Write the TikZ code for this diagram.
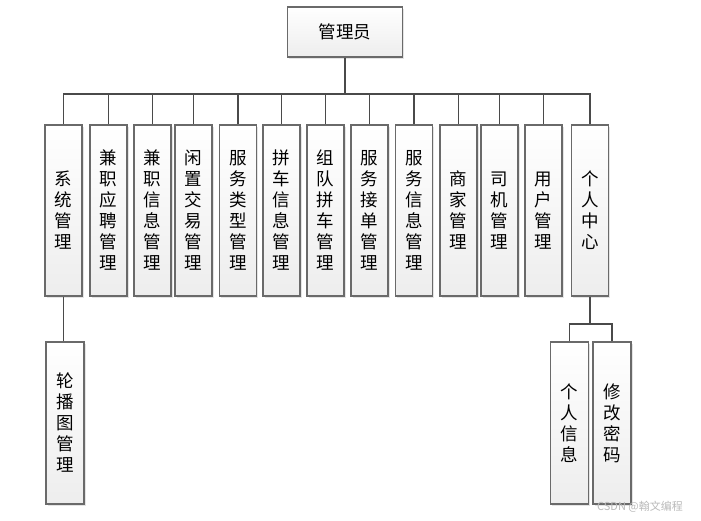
\documentclass[tikz,border=0pt]{standalone}
\usepackage{fontspec}
\newfontfamily\cjk{Noto Sans CJK SC}
\usetikzlibrary{shadows}
\definecolor{boxline}{HTML}{6A6A6A}
\definecolor{linkline}{HTML}{4A4A4A}
\tikzset{
  menubox/.style={draw=boxline,line width=1.1pt,inner sep=0pt,align=center,
    top color=white,bottom color=gray!14,
    drop shadow={shadow xshift=1.5pt,shadow yshift=-1.5pt,fill=gray!35,opacity=.6},
    font=\cjk\fontsize{17.5}{21}\selectfont},
  link/.style={draw=linkline,line width=1.4pt}
}
\begin{document}
\begin{tikzpicture}[x=1pt,y=-1pt]
    \useasboundingbox (0,0) rectangle (701,520);
    \node[menubox,minimum width=115pt,minimum height=50pt] (root) at (345,32) {管理员};
    \coordinate (bus) at (345,94);
    \draw[link] (root.south) -- (bus);
    % first level
    \foreach \x/\t [count=\i] in {63.5/系\\统\\管\\理, 108.5/兼\\职\\应\\聘\\管\\理,
        152.5/兼\\职\\信\\息\\管\\理, 193.5/闲\\置\\交\\易\\管\\理,
        238/服\\务\\类\\型\\管\\理, 281.5/拼\\车\\信\\息\\管\\理,
        325.5/组\\队\\拼\\车\\管\\理, 369.5/服\\务\\接\\单\\管\\理,
        414/服\\务\\信\\息\\管\\理, 458.5/商\\家\\管\\理,
        499.5/司\\机\\管\\理, 543.5/用\\户\\管\\理, 590/个\\人\\中\\心}{
        \node[menubox,minimum width=37pt,minimum height=171pt] (b\i) at (\x,210.5) {\t};
        \draw[link] (b\i.north) |- (bus);
    }
    % second level
    \node[menubox,minimum width=38pt,minimum height=162pt] (c1) at (65,423) {轮\\播\\图\\管\\理};
    \node[menubox,minimum width=38pt,minimum height=162pt] (c2) at (569.5,423) {个\\人\\信\\息};
    \node[menubox,minimum width=38pt,minimum height=162pt] (c3) at (612,423) {修\\改\\密\\码};
    \draw[link] (b1.south) -- (b1.south |- c1.north);
    \coordinate (fork) at (590,324);
    \draw[link] (b13.south) -- (fork);
    \draw[link] (c2.north) |- (fork);
    \draw[link] (c3.north) |- (fork);
    \node[text=gray!55,font=\cjk\fontsize{11}{13}\selectfont] (mark) at (640,507) {CSDN @翰文编程};
\end{tikzpicture}
\end{document}
